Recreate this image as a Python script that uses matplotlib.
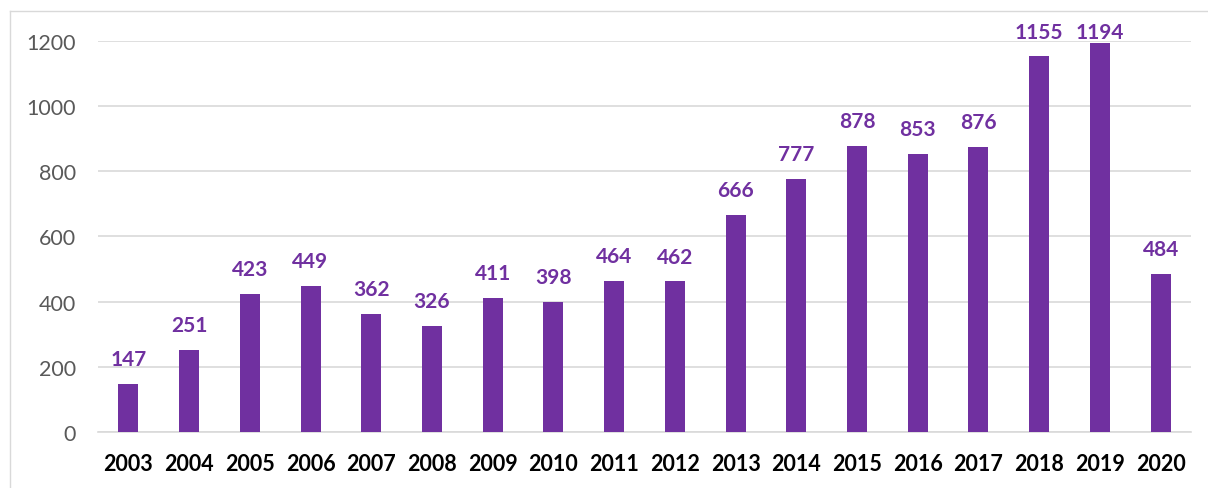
import matplotlib
matplotlib.use("Agg")
import matplotlib.pyplot as plt
from matplotlib.lines import Line2D

years = ["2003", "2004", "2005", "2006", "2007", "2008", "2009", "2010", "2011",
         "2012", "2013", "2014", "2015", "2016", "2017", "2018", "2019", "2020"]
counts = [147, 251, 423, 449, 362, 326, 411, 398, 464,
          462, 666, 777, 878, 853, 876, 1155, 1194, 484]
yticks = [0, 200, 400, 600, 800, 1000, 1200]

purple = "#7030A0"
grid_col = "#D9D9D9"

plt.rcParams['font.family'] = ['Lato', 'DejaVu Sans']

fig = plt.figure(figsize=(12.08, 4.89), dpi=100)
ax = fig.add_axes([98 / 1208, 1 - 433 / 489, (1191 - 98) / 1208, (433 - 42) / 489])

x = range(len(years))
ax.bar(x, counts, width=0.33, color=purple, zorder=3)

# value labels sit above each bar, kept inside the chart frame
label_gap = 58
label_max = 1209
for xi, v in zip(x, counts):
    ax.text(xi, min(v + label_gap, label_max), str(v), ha="center", va="baseline",
            color=purple, fontsize=15, fontweight="bold", clip_on=False)

ax.set_xlim(-0.5, len(years) - 0.5)
ax.set_ylim(0, 1200)
ax.set_yticks(yticks)
ax.set_yticklabels([str(t) for t in yticks], color="#595959", fontsize=15.5)
ax.set_xticks(list(x))
ax.set_xticklabels(years, fontsize=15.5, fontweight="bold", color="black")
ax.tick_params(axis="both", length=0)
ax.tick_params(axis="y", pad=16)
ax.tick_params(axis="x", pad=15)

ax.grid(axis="y", color=grid_col, linewidth=1.2, zorder=0)
for side in ["top", "right", "left"]:
    ax.spines[side].set_visible(False)
ax.spines["bottom"].set_color(grid_col)
ax.spines["bottom"].set_linewidth(1.2)

# outer frame (left and top edges)
fig.add_artist(Line2D([10 / 1208, 10 / 1208], [0, 1 - 12 / 489],
                      transform=fig.transFigure, color="#D9D9D9", linewidth=1))
fig.add_artist(Line2D([10 / 1208, 1], [1 - 12 / 489, 1 - 12 / 489],
                      transform=fig.transFigure, color="#D9D9D9", linewidth=1))

fig.savefig("out.png", dpi=100, facecolor="white")
